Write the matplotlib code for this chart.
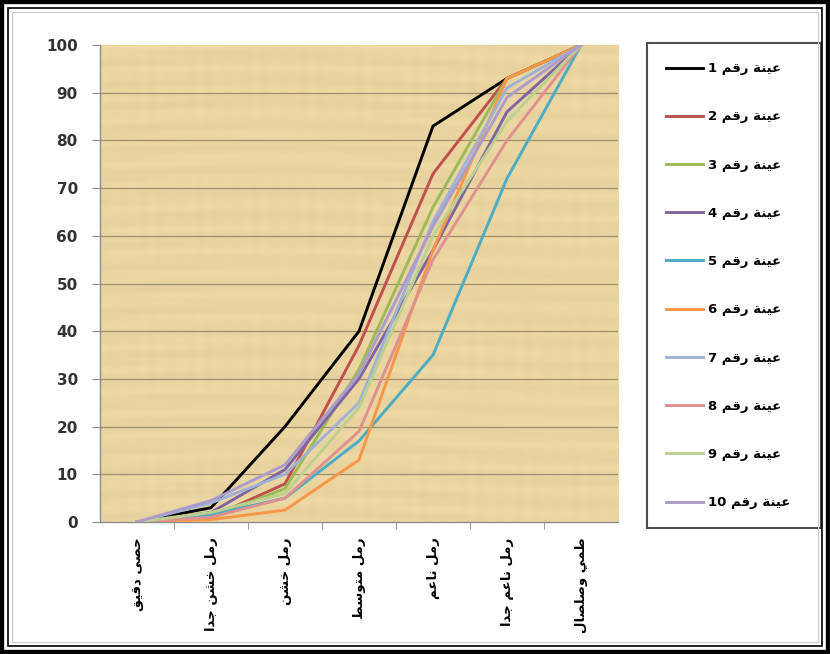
import numpy as np
import matplotlib
matplotlib.use("Agg")
import matplotlib.pyplot as plt
from matplotlib.patches import Rectangle

# ---- data -------------------------------------------------------------
categories = ["حصى دقيق", "رمل خشن جدا", "رمل خشن", "رمل متوسط",
              "رمل ناعم", "رمل ناعم جدا", "طمي وصلصال"]
sample_prefix = "عينة رقم"
sample_ids = [1, 2, 3, 4, 5, 6, 7, 8, 9, 10]

s1 = [0, 3, 20, 40, 83, 93, 100]
s2 = [0, 1, 8, 37, 73, 93, 100]
s3 = [0, 1, 7, 32, 66, 93, 100]
s4 = [0, 2, 11, 30, 57, 86, 100]
s5 = [0, 1.5, 5, 17, 35, 72, 100]
s6 = [0, 0.5, 2.5, 13, 57, 93, 100]
s7 = [0, 4, 10, 25, 63, 91, 100]
s8 = [0, 1, 5, 19, 55, 80, 100]
s9 = [0, 2, 6, 24, 60, 84, 100]
s10 = [0, 4.5, 12, 31, 62, 89, 100]
series = [s1, s2, s3, s4, s5, s6, s7, s8, s9, s10]

colors = ["#000000", "#C0504D", "#9BBB59", "#8064A2", "#4BACC6",
          "#F79646", "#9FB2D6", "#DE918F", "#BCD08F", "#AB9CCB"]
y_ticks = [0, 10, 20, 30, 40, 50, 60, 70, 80, 90, 100]

# ---- minimal Arabic shaping (presentation forms, visual order) --------
FORMS = {
    "ا": ("\uFE8D", "\uFE8E"), "د": ("\uFEA9", "\uFEAA"),
    "ر": ("\uFEAD", "\uFEAE"), "و": ("\uFEED", "\uFEEE"),
    "ى": ("\uFEEF", "\uFEF0"), "ة": ("\uFE93", "\uFE94"),
    "ت": ("\uFE95", "\uFE96", "\uFE97", "\uFE98"),
    "ج": ("\uFE9D", "\uFE9E", "\uFE9F", "\uFEA0"),
    "ح": ("\uFEA1", "\uFEA2", "\uFEA3", "\uFEA4"),
    "خ": ("\uFEA5", "\uFEA6", "\uFEA7", "\uFEA8"),
    "س": ("\uFEB1", "\uFEB2", "\uFEB3", "\uFEB4"),
    "ش": ("\uFEB5", "\uFEB6", "\uFEB7", "\uFEB8"),
    "ص": ("\uFEB9", "\uFEBA", "\uFEBB", "\uFEBC"),
    "ط": ("\uFEC1", "\uFEC2", "\uFEC3", "\uFEC4"),
    "ع": ("\uFEC9", "\uFECA", "\uFECB", "\uFECC"),
    "ق": ("\uFED5", "\uFED6", "\uFED7", "\uFED8"),
    "ل": ("\uFEDD", "\uFEDE", "\uFEDF", "\uFEE0"),
    "م": ("\uFEE1", "\uFEE2", "\uFEE3", "\uFEE4"),
    "ن": ("\uFEE5", "\uFEE6", "\uFEE7", "\uFEE8"),
    "ي": ("\uFEF1", "\uFEF2", "\uFEF3", "\uFEF4"),
}


def shape_arabic(text):
    out = []
    for i, ch in enumerate(text):
        f = FORMS.get(ch)
        if f is None:
            out.append(ch)
            continue
        prev = i > 0 and text[i - 1] in FORMS and len(FORMS[text[i - 1]]) == 4
        nxt = len(f) == 4 and i + 1 < len(text) and text[i + 1] in FORMS
        if prev and nxt:
            out.append(f[3])
        elif prev:
            out.append(f[1])
        elif nxt:
            out.append(f[2])
        else:
            out.append(f[0])
    return "".join(out)[::-1]


# ---- figure -----------------------------------------------------------
W, H = 830, 654
fig = plt.figure(figsize=(W / 100, H / 100), dpi=100)
fig.patch.set_facecolor("white")

ax = fig.add_axes([100 / W, 1 - 522 / H, 518 / W, 477 / H])
ax.set_facecolor("#E9D49F")

# papyrus-like fibre texture behind the plot (mostly horizontal streaks)
gx = np.linspace(0, 1, 300)
gy = np.linspace(0, 1, 280)
GX, GY = np.meshgrid(gx, gy)
tex = (0.5 * np.sin(GY * 131.0 + 2.0 * np.sin(GX * 5.0))
       + 0.3 * np.sin(GY * 277.0 + 1.1) * (0.6 + 0.4 * np.sin(GX * 13.0))
       + 0.2 * np.sin(GX * 173.0) * np.sin(GY * 11.0 + 0.7))
base = np.array([234, 213, 161]) / 255.0
rgb = np.clip(base[None, None, :] + 0.022 * tex[..., None] * np.array([1.0, 0.9, 0.7]), 0, 1)
ax.imshow(rgb, extent=(-0.5, 6.5, 0, 100), aspect="auto", zorder=0,
          interpolation="bilinear")

x = np.arange(len(categories))
for vals, c, sid in zip(series, colors, sample_ids):
    ax.plot(x, vals, color=c, lw=2.1, solid_joinstyle="miter",
            label=f"{sid} " + shape_arabic(sample_prefix), zorder=3)

ax.set_xlim(-0.5, len(categories) - 0.5)
ax.set_ylim(0, 100)
ax.set_yticks(y_ticks)
ax.set_yticklabels([str(v) for v in y_ticks], fontweight="bold",
                   fontsize=11, color="#333333")
for v in y_ticks[1:-1]:
    ax.axhline(v, color="#9E8E6E", lw=0.9, zorder=1)

ax.set_xticks(x)
ax.set_xticklabels([shape_arabic(c) for c in categories], rotation=90,
                   fontsize=9.5, fontweight="bold", va="top", ha="center",
                   family="DejaVu Sans")
ax.set_xticks(np.arange(0.5, len(categories) - 0.5, 1), minor=True)
ax.tick_params(axis="x", which="major", length=0, pad=11)
ax.tick_params(axis="x", which="minor", length=5, color="#8C8C8C", direction="out")
ax.tick_params(axis="y", length=6, color="#8C8C8C", pad=10, direction="out")

for side in ("top", "right"):
    ax.spines[side].set_visible(False)
for side in ("left", "bottom"):
    ax.spines[side].set_color("#8C8C8C")
    ax.spines[side].set_linewidth(1.0)

leg = fig.legend(loc="upper left", bbox_to_anchor=(647 / W, 1 - 43 / H, 174 / W, 0),
                 mode="expand", frameon=True, fancybox=False,
                 prop={"weight": "bold", "size": 9.5, "family": "DejaVu Sans"},
                 labelspacing=2.67, handlelength=2.8, handletextpad=0.4,
                 borderpad=1.45, borderaxespad=0)
leg.get_frame().set_edgecolor("#222222")
leg.get_frame().set_linewidth(1.5)

# page border: heavy outer frame with a thin inner rule
fig.patches.append(Rectangle((0, 0), 1, 1, transform=fig.transFigure,
                             fill=False, edgecolor="black", lw=6, zorder=10))
fig.patches.append(Rectangle((8 / W, 8 / H), 1 - 16 / W, 1 - 16 / H,
                             transform=fig.transFigure, fill=False,
                             edgecolor="black", lw=1.2, zorder=10))
fig.patches.append(Rectangle((12 / W, 12 / H), 1 - 24 / W, 1 - 24 / H,
                             transform=fig.transFigure, fill=False,
                             edgecolor="#C8C8C8", lw=0.8, zorder=10))

fig.savefig("out.png", dpi=100)
